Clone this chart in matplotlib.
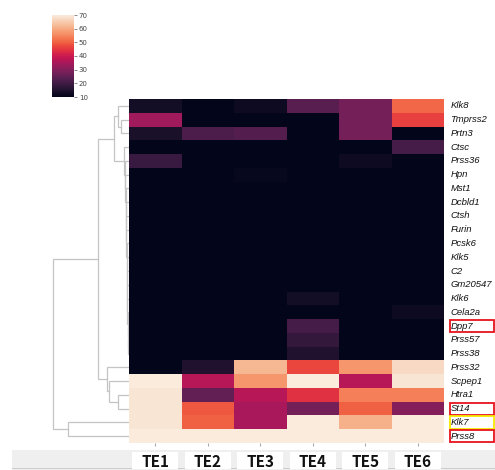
import numpy as np
import matplotlib
matplotlib.use("Agg")
import matplotlib.pyplot as plt
from matplotlib.patches import Rectangle
import seaborn as sns

# ---------------- data ----------------
genes = ["Klk8", "Tmprss2", "Prtn3", "Ctsc", "Prss36", "Hpn", "Mst1", "Dcbld1",
         "Ctsh", "Furin", "Pcsk6", "Klk5", "C2", "Gm20547", "Klk6", "Cela2a",
         "Dpp7", "Prss57", "Prss38", "Prss32", "Scpep1", "Htra1", "St14",
         "Klk7", "Prss8"]
samples = ["TE1", "TE2", "TE3", "TE4", "TE5", "TE6"]

TE1 = [13, 34, 14, 10, 19, 10, 10, 10, 10, 10, 10, 10, 10, 10, 10, 10, 10, 10, 10, 10, 70, 69, 69, 69, 70]
TE2 = [10, 10, 22, 10, 10, 10, 10, 10, 10, 10, 10, 10, 10, 10, 10, 10, 10, 10, 10, 15, 37, 25, 49, 50, 70]
TE3 = [12, 10, 23, 10, 10, 11, 10, 10, 10, 10, 10, 10, 10, 10, 10, 10, 10, 10, 10, 62, 57, 37, 35, 35, 70]
TE4 = [24, 10, 10, 10, 10, 10, 10, 10, 10, 10, 10, 10, 10, 10, 13, 10, 21, 18, 15, 47, 70, 44, 28, 70, 70]
TE5 = [28, 28, 28, 10, 12, 10, 10, 10, 10, 10, 10, 10, 10, 10, 10, 10, 10, 10, 10, 57, 37, 54, 50, 61, 70]
TE6 = [51, 46, 10, 21, 10, 10, 10, 10, 10, 10, 10, 10, 10, 10, 10, 12, 10, 10, 10, 67, 69, 54, 30, 70, 70]

vmin, vmax = 10, 70
cbar_ticks = [10, 20, 30, 40, 50, 60, 70]

# row dendrogram merges: (left, right, new node name, height)
merges = [
    ("Tmprss2", "Prtn3", "a1", 8),
    ("Klk8", "a1", "a2", 11),
    ("Prss57", "Prss38", "z1", 0.8),
    ("Dpp7", "z1", "z2", 1.2),
    ("Cela2a", "z2", "z3", 1.5),
    ("Klk6", "z3", "z4", 1.7),
    ("Gm20547", "z4", "z5", 1.9),
    ("C2", "z5", "z6", 2.1),
    ("Klk5", "z6", "z7", 2.3),
    ("Pcsk6", "z7", "z8", 2.5),
    ("Furin", "z8", "z9", 2.7),
    ("Ctsh", "z9", "z10", 2.9),
    ("Dcbld1", "z10", "z11", 3.1),
    ("Mst1", "z11", "z12", 3.3),
    ("Hpn", "z12", "z13", 3.6),
    ("Prss36", "z13", "b1", 4.2),
    ("Ctsc", "b1", "b2", 5.2),
    ("a2", "b2", "top", 15),
    ("Htra1", "St14", "c1", 11),
    ("Scpep1", "c1", "c2", 20),
    ("Prss32", "c2", "c3", 22),
    ("top", "c3", "big", 31),
    ("Klk7", "Prss8", "k1", 61),
    ("big", "k1", "root", 76),
]
highlight_red = ["Dpp7", "St14", "Prss8"]
highlight_yellow = ["Klk7"]

# ---------------- figure ----------------
W, H = 495, 470
fig = plt.figure(figsize=(W / 100, H / 100), dpi=100)

def fx(px):
    return px / W

def fy(py):
    return 1 - py / H

hm_l, hm_r, hm_t, hm_b = 129, 444, 99, 443
ax = fig.add_axes([fx(hm_l), fy(hm_b), fx(hm_r - hm_l), (hm_b - hm_t) / H])
cmap = sns.color_palette("rocket", as_cmap=True)
data = np.array([TE1, TE2, TE3, TE4, TE5, TE6], dtype=float).T
nrow, ncol = data.shape
mesh = ax.pcolormesh(np.arange(ncol + 1), np.arange(nrow + 1), data,
                     cmap=cmap, vmin=vmin, vmax=vmax)
ax.set_xlim(0, ncol)
ax.set_ylim(nrow, 0)
for s in ax.spines.values():
    s.set_visible(False)
ax.set_yticks([])
ax.set_xticks(np.arange(ncol) + 0.5)
ax.set_xticklabels([])
ax.tick_params(axis="x", length=2, width=0.8, color="#aaaaaa")

# row labels
ytr = ax.get_yaxis_transform()
for i, g in enumerate(genes):
    ax.text(1.02, i + 0.5, g, transform=ytr, ha="left", va="center",
            fontsize=6.8, style="italic", family="Liberation Sans",
            color="#111111")
    if g in highlight_red or g in highlight_yellow:
        col = "#e8141c" if g in highlight_red else "#f5ea00"
        ax.add_patch(Rectangle((1.019, i + 0.06), 0.14, 0.9, transform=ytr,
                               fill=False, edgecolor=col, linewidth=1.3,
                               clip_on=False))

# bottom grey band with column labels
band = Rectangle((fx(12), fy(470)), fx(495 - 12), 20 / H, transform=fig.transFigure,
                 facecolor="#efefef", edgecolor="none")
fig.add_artist(band)
fig.add_artist(Rectangle((fx(12), fy(469)), fx(495 - 12), 1.2 / H,
                         transform=fig.transFigure, facecolor="#cccccc",
                         edgecolor="none"))
colw = (hm_r - hm_l) / ncol
for j, s in enumerate(samples):
    cx = hm_l + colw * (j + 0.5)
    fig.add_artist(Rectangle((fx(cx - 23), fy(469)), fx(46), 17 / H,
                             transform=fig.transFigure, facecolor="white",
                             edgecolor="none"))
    fig.text(fx(cx), fy(462), s, ha="center", va="center", fontsize=11,
             fontweight="bold", family=["Noto Sans CJK JP", "DejaVu Sans"],
             color="#111111")

# dendrogram
dax = fig.add_axes([0, fy(hm_b), fx(hm_l), (hm_b - hm_t) / H])
dax.set_xlim(hm_l, 0)
dax.set_ylim(nrow, 0)
dax.axis("off")
pos = {g: (i + 0.5, 0.0) for i, g in enumerate(genes)}
lc = "#c4c4c4"
for left, right, name, h in merges:
    yl, hl = pos[left]
    yr, hr = pos[right]
    dax.plot([hl, h, h, hr], [yl, yl, yr, yr], color=lc, linewidth=0.9,
             solid_joinstyle="miter")
    pos[name] = ((yl + yr) / 2, h)

# colorbar
cax = fig.add_axes([fx(52), fy(97), fx(22), 82 / H])
cb = fig.colorbar(mesh, cax=cax, ticks=cbar_ticks)
cb.outline.set_visible(False)
cax.tick_params(labelsize=5, length=2, width=0.6, color="#777777",
                labelcolor="#444444", pad=1.5)

fig.savefig("out.png", dpi=100)
